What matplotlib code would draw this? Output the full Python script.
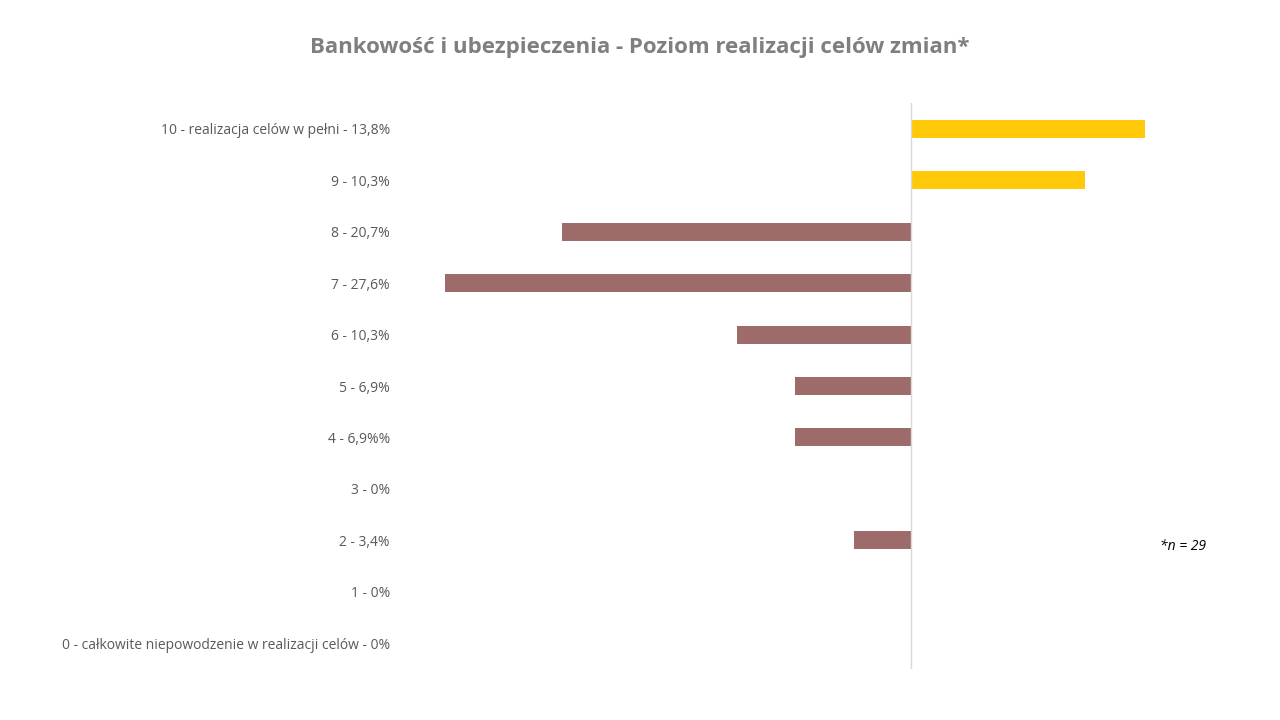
import numpy as np
import matplotlib.pyplot as plt

plt.rcParams['font.family'] = ['Open Sans', 'DejaVu Sans']

# scale 0..10, share in percent (negative = left of axis)
labels = [
    '0 - całkowite niepowodzenie w realizacji celów - 0%',
    '1 - 0%',
    '2 - 3,4%',
    '3 - 0%',
    '4 - 6,9%%',
    '5 - 6,9%',
    '6 - 10,3%',
    '7 - 27,6%',
    '8 - 20,7%',
    '9 - 10,3%',
    '10 - realizacja celów w pełni - 13,8%',
]
values = [0, 0, -3.4, 0, -6.9, -6.9, -10.3, -27.6, -20.7, 10.3, 13.8]

yellow = '#FFC90A'
brown = '#9E6B6B'
colors = [yellow if v > 0 else brown for v in values]

fig = plt.figure(figsize=(12.8, 7.2), dpi=100)
ax = fig.add_axes([401 / 1280, 51 / 720, 850 / 1280, 566 / 720])

y = np.arange(len(labels))
ax.barh(y, values, height=0.35, color=colors)
ax.axvline(0, color='#D9D9D9', lw=1)

ax.set_xlim(-30.2, 20.1)
ax.set_ylim(-0.5, 10.5)
ax.set_yticks(y)
ax.set_yticklabels(labels, fontsize=10, color='#595959')
ax.tick_params(axis='y', length=0, pad=8)
ax.set_xticks([])
for s in ax.spines.values():
    s.set_visible(False)

fig.text(0.5, 1 - 47 / 720, 'Bankowość i ubezpieczenia - Poziom realizacji celów zmian*',
         ha='center', va='center', fontsize=16, fontweight='bold', color='#7F7F7F')
fig.text(1160 / 1280, 1 - 547 / 720, '*n = 29', ha='left', va='center',
         fontsize=10, style='italic', color='black')

fig.savefig('out.png', dpi=100)
